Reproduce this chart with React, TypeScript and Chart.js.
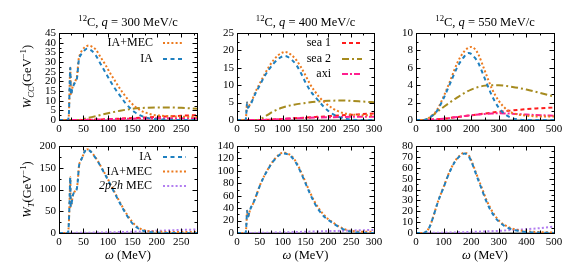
import React, { useEffect, useRef } from 'react';
import { Chart, registerables } from 'chart.js';
Chart.register(...registerables);

const W = 568;
const H = 273;
const FONT = '"Liberation Serif", "Times New Roman", serif';

// ---------------- data ----------------
// q = 300 MeV/c, W_CC
const om300cc = [0, 18, 20, 22, 23, 24.5, 27, 30, 34, 37, 40, 43, 47, 52, 57, 62, 67, 75, 85, 95, 105, 115, 125, 135, 145, 155, 165, 175, 190, 210, 230, 250, 282];
const cc300IA = [0, 0, 2, 20, 27, 13, 16, 18, 20, 22, 30, 33, 34.5, 36, 36.8, 36.6, 35.8, 33.5, 29, 24.5, 20, 16, 12.5, 9, 6.2, 4, 2.5, 1.5, 0.7, 0.3, 0.1, 0, 0];
const cc300IAMEC = [0, 0, 2, 20, 27.5, 13, 16.3, 18.5, 20.5, 23, 31, 34, 36, 37.5, 38.3, 38.5, 38, 36.5, 32.5, 28.5, 24, 20, 16, 12.5, 9.5, 7, 5.2, 4, 2.8, 2.2, 1.9, 1.7, 1.6];
const om300sea = [0, 40, 50, 75, 100, 125, 150, 175, 200, 225, 250, 282];
const cc300sea1 = [0, 0, 0.05, 0.2, 0.4, 0.7, 1.0, 1.3, 1.6, 1.9, 2.2, 2.5];
const cc300sea2 = [0, 0, 0.5, 2, 3.5, 4.8, 5.8, 6.3, 6.5, 6.5, 6.3, 5.8];
const cc300axi = [0, 0, 0.05, 0.2, 0.4, 0.55, 0.7, 0.8, 0.85, 0.9, 0.9, 0.9];

// q = 400 MeV/c, W_CC
const om400cc = [0, 19, 21, 22, 24, 27, 30, 35, 40, 50, 60, 70, 80, 90, 100, 105, 110, 120, 130, 140, 150, 160, 170, 180, 190, 200, 210, 220, 230, 240, 250, 270, 300];
const cc400IA = [0, 0, 3, 5, 3.5, 4, 4.5, 6, 7.5, 10, 12.5, 14.5, 16.2, 17.5, 18.3, 18.4, 18.2, 17.3, 15.8, 13.5, 10.8, 8.5, 6.8, 5.3, 3.8, 2.6, 1.7, 1, 0.6, 0.3, 0.1, 0, 0];
const cc400IAMEC = [0, 0, 3, 5, 3.5, 4.2, 4.8, 6.3, 8, 10.5, 13, 15.3, 17.2, 18.6, 19.4, 19.6, 19.4, 18.6, 17.2, 15.2, 12.8, 10.3, 8.3, 6.6, 5.3, 4.2, 3.3, 2.6, 2.1, 1.8, 1.6, 1.4, 1.3];
const om400sea = [0, 45, 55, 65, 80, 100, 125, 150, 175, 200, 225, 250, 275, 300];
const cc400sea1 = [0, 0, 0.02, 0.05, 0.15, 0.3, 0.5, 0.7, 0.9, 1.1, 1.3, 1.5, 1.7, 1.9];
const cc400sea2 = [0, 0, 0.5, 1.3, 2.5, 3.6, 4.4, 4.9, 5.3, 5.5, 5.6, 5.5, 5.3, 5.1];
const cc400axi = [0, 0, 0.02, 0.05, 0.15, 0.3, 0.45, 0.6, 0.7, 0.8, 0.85, 0.9, 0.9, 0.9];

// q = 550 MeV/c, W_CC
const om550cc = [0, 25, 40, 50, 75, 100, 125, 150, 175, 190, 200, 212, 225, 250, 275, 300, 325, 350, 375, 400, 450, 500];
const cc550IA = [0, 0, 0.1, 0.3, 1.0, 2.5, 4.3, 6.1, 7.3, 7.7, 7.6, 7.2, 6.6, 4.7, 2.8, 1.4, 0.6, 0.2, 0.05, 0, 0, 0];
const cc550IAMEC = [0, 0, 0.1, 0.3, 1.1, 2.7, 4.6, 6.6, 7.9, 8.3, 8.4, 8.2, 7.6, 5.6, 3.6, 2.2, 1.3, 0.8, 0.6, 0.5, 0.4, 0.4];
const om550sea = [0, 30, 50, 100, 150, 200, 250, 275, 300, 350, 400, 450, 500];
const cc550sea1 = [0, 0, 0.02, 0.15, 0.35, 0.55, 0.75, 0.85, 0.95, 1.1, 1.25, 1.35, 1.45];
const cc550sea2 = [0, 0, 0.3, 1.5, 2.6, 3.5, 3.95, 4.0, 4.0, 3.8, 3.5, 3.1, 2.7];
const cc550axi = [0, 0, 0.02, 0.15, 0.35, 0.55, 0.7, 0.75, 0.78, 0.72, 0.62, 0.55, 0.5];

// q = 300 MeV/c, W_T
const om300t = [0, 18, 20, 22, 23, 24, 26, 28, 32, 36, 38, 41, 44, 48, 52, 57, 62, 70, 80, 90, 100, 110, 120, 130, 140, 150, 160, 170, 180, 200, 230, 282];
const t300IA = [0, 0, 20, 90, 128, 60, 70, 85, 95, 100, 115, 155, 165, 175, 186, 192, 190, 180, 163, 143, 122, 100, 78, 57, 38, 22, 12, 6, 3, 1, 0, 0];
const t300IAMEC = [0, 0, 20, 90, 128, 60, 70, 85, 95, 100, 115, 155, 165, 175, 186.3, 192.6, 190.6, 180.8, 164, 144.2, 123.5, 101.8, 80.1, 59.4, 40.7, 25, 14, 8, 5, 3, 2.5, 2.5];
const om300mec = [0, 50, 100, 150, 200, 250, 282];
const t300MEC = [0, 0.5, 1.5, 3, 5, 7, 8];

// q = 400 MeV/c, W_T
const om400t = [0, 19, 21, 22, 24, 27, 30, 35, 40, 45, 50, 60, 70, 80, 90, 100, 110, 120, 130, 140, 150, 160, 170, 180, 190, 200, 210, 220, 230, 240, 250, 260, 280, 300];
const t400IA = [0, 0, 20, 36, 26, 33, 40, 47, 56, 66, 76, 92, 105, 116, 124, 128, 127, 122, 112, 97, 80, 63, 48, 36, 27, 21, 16, 11, 7, 4, 2.3, 1.2, 0.3, 0];
const t400IAMEC = [0, 0, 20, 36, 26, 33, 40, 47, 56, 66, 76.3, 92.4, 105.6, 116.7, 124.9, 129, 128.2, 123.4, 113.6, 98.8, 82, 65.2, 50.4, 38.6, 29.5, 22, 17, 12, 8, 5, 3.5, 2.5, 2, 2];
const om400mec = [0, 50, 100, 150, 200, 250, 300];
const t400MEC = [0, 0.3, 1, 2, 3, 4, 5];

// q = 550 MeV/c, W_T
const om550t = [0, 25, 40, 50, 60, 70, 80, 100, 120, 140, 160, 175, 190, 200, 212, 225, 240, 255, 270, 285, 300, 320, 340, 360, 380, 400, 450, 500];
const t550IA = [0, 0, 2, 6, 13, 21, 29, 42, 55, 65, 71, 73, 71, 66, 58, 49, 39, 29, 21, 15, 10.5, 6.5, 4, 2.5, 1.5, 0.8, 0.3, 0.1];
const t550IAMEC = [0, 0, 2, 6.1, 13.1, 21.2, 29.2, 42.3, 55.4, 65.5, 71.6, 73.7, 71.9, 67, 59.1, 50.3, 40.5, 30.6, 22.7, 16.5, 11.5, 7.5, 5, 3.3, 2.2, 1.5, 0.8, 0.5];
const om550mec = [0, 100, 200, 300, 350, 400, 450, 500];
const t550MEC = [0, 0.3, 1, 2, 2.8, 3.5, 4.5, 6];

// axis ranges / ticks
const xMax = [282, 300, 500];
const xStep = [50, 50, 100];
const yMaxCC = [45, 25, 10];
const yStepCC = [5, 5, 2];
const yMaxT = [200, 140, 80];
const yStepT = [50, 20, 10];
const qValues = ['300', '400', '550'];

// ---------------- styles ----------------
type Sty = { color: string; dash: number[]; width: number };
const S_IA: Sty = { color: '#1f80c0', dash: [4, 3.5], width: 2 };
const S_IAMEC: Sty = { color: '#ec7a1e', dash: [2, 2.2], width: 2 };
const S_SEA1: Sty = { color: '#ff1c1c', dash: [4, 3], width: 2 };
const S_SEA2: Sty = { color: '#a68b1f', dash: [7, 3, 2, 3], width: 2 };
const S_AXI: Sty = { color: '#ff1f8f', dash: [6, 2, 2, 2], width: 2 };
const S_MEC: Sty = { color: '#b27ef0', dash: [2, 2.2], width: 2 };
const S_ZERO: Sty = { color: '#a0a0a0', dash: [], width: 2 };

type Run = { t: string; i?: boolean; sub?: boolean; sup?: boolean };

function drawRuns(ctx: CanvasRenderingContext2D, runs: Run[], x: number, y: number, size: number, align: 'left' | 'center' | 'right', rotate = false) {
  ctx.save();
  const pieces = runs.map((r) => {
    const s = r.sub || r.sup ? size * 0.7 : size;
    const f = `${r.i ? 'italic ' : ''}${s}px ${FONT}`;
    ctx.font = f;
    return { t: r.t, f, w: ctx.measureText(r.t).width, dy: r.sub ? size * 0.28 : r.sup ? -size * 0.36 : 0 };
  });
  const total = pieces.reduce((a, p) => a + p.w, 0);
  ctx.translate(x, y);
  if (rotate) ctx.rotate(-Math.PI / 2);
  let cx = align === 'left' ? 0 : align === 'center' ? -total / 2 : -total;
  ctx.textBaseline = 'middle';
  ctx.textAlign = 'left';
  ctx.fillStyle = '#000';
  for (const p of pieces) {
    ctx.font = p.f;
    ctx.fillText(p.t, cx, p.dy);
    cx += p.w;
  }
  ctx.restore();
}

type LegendEntry = { runs: Run[]; sty: Sty; dy: number };
type Decor = {
  title?: Run[];
  ylabel?: Run[];
  xlabel?: Run[];
  legend?: LegendEntry[];
  legendTextRight?: number;
  legendLine?: [number, number];
  xStep: number;
  yStep: number;
};

const decorPlugin = {
  id: 'decor',
  afterDraw(chart: any, _args: any, opts: Decor) {
    const { ctx, chartArea: a, scales } = chart;
    const xs = scales.x;
    const ys = scales.y;
    const L = Math.round(a.left);
    const R = Math.round(a.right);
    const T = Math.round(a.top);
    const B = Math.round(a.bottom);
    ctx.save();
    ctx.strokeStyle = '#000';
    ctx.lineWidth = 1;
    ctx.setLineDash([]);
    ctx.beginPath();
    // x ticks (major + minor), mirrored
    const xmin = xs.min, xmax = xs.max;
    const xm = opts.xStep / 2;
    for (let k = 0; xmin + k * xm <= xmax + 1e-9; k++) {
      const v = xmin + k * xm;
      const len = k % 2 === 0 ? 4.5 : 2.5;
      const px = Math.round(xs.getPixelForValue(v)) + 0.5;
      ctx.moveTo(px, B);
      ctx.lineTo(px, B - len);
      ctx.moveTo(px, T);
      ctx.lineTo(px, T + len);
    }
    const ym = opts.yStep / 2;
    for (let k = 0; ys.min + k * ym <= ys.max + 1e-9; k++) {
      const v = ys.min + k * ym;
      const len = k % 2 === 0 ? 4.5 : 2.5;
      const py = Math.round(ys.getPixelForValue(v)) + 0.5;
      ctx.moveTo(L, py);
      ctx.lineTo(L + len, py);
      ctx.moveTo(R, py);
      ctx.lineTo(R - len, py);
    }
    ctx.stroke();
    ctx.strokeRect(L + 0.5, T + 0.5, R - L, B - T);
    // texts
    const cxm = (a.left + a.right) / 2;
    const cym = (a.top + a.bottom) / 2;
    if (opts.title) drawRuns(ctx, opts.title, cxm, a.top - 10, 12.5, 'center');
    if (opts.ylabel) drawRuns(ctx, opts.ylabel, 28, cym, 12.5, 'center', true);
    if (opts.xlabel) drawRuns(ctx, opts.xlabel, cxm, 256, 12.5, 'center');
    if (opts.legend && opts.legendLine && opts.legendTextRight !== undefined) {
      for (const e of opts.legend) {
        const y = a.top + e.dy;
        drawRuns(ctx, e.runs, a.right - opts.legendTextRight, y, 12, 'right');
        ctx.save();
        ctx.strokeStyle = e.sty.color;
        ctx.lineWidth = e.sty.width;
        ctx.setLineDash(e.sty.dash);
        ctx.beginPath();
        ctx.moveTo(a.right - opts.legendLine[0], y);
        ctx.lineTo(a.right - opts.legendLine[1], y);
        ctx.stroke();
        ctx.restore();
      }
    }
    ctx.restore();
  },
};

type Series = { xs: number[]; ys: number[]; sty: Sty; order: number; label: string };
type Panel = {
  L: number; R: number; T: number; B: number;
  xMax: number; xStep: number; yMax: number; yStep: number;
  series: Series[];
  decor: Decor;
};

const colL = [59, 237, 416];
const colR = [197, 374, 554];
const rowT = [33, 146];
const rowB = [120, 233];

function titleRuns(q: string): Run[] {
  return [{ t: '12', sup: true }, { t: 'C, ' }, { t: 'q', i: true }, { t: ` = ${q} MeV/c` }];
}

const ccData = [
  { om: om300cc, ia: cc300IA, iamec: cc300IAMEC, oms: om300sea, s1: cc300sea1, s2: cc300sea2, ax: cc300axi },
  { om: om400cc, ia: cc400IA, iamec: cc400IAMEC, oms: om400sea, s1: cc400sea1, s2: cc400sea2, ax: cc400axi },
  { om: om550cc, ia: cc550IA, iamec: cc550IAMEC, oms: om550sea, s1: cc550sea1, s2: cc550sea2, ax: cc550axi },
];
const tData = [
  { om: om300t, ia: t300IA, iamec: t300IAMEC, omm: om300mec, mec: t300MEC },
  { om: om400t, ia: t400IA, iamec: t400IAMEC, omm: om400mec, mec: t400MEC },
  { om: om550t, ia: t550IA, iamec: t550IAMEC, omm: om550mec, mec: t550MEC },
];

const PANELS: Panel[] = [];
for (let c = 0; c < 3; c++) {
  const d = ccData[c];
  const decor: Decor = { title: titleRuns(qValues[c]), xStep: xStep[c], yStep: yStepCC[c] };
  if (c === 0) {
    decor.ylabel = [{ t: 'W', i: true }, { t: 'CC', i: true, sub: true }, { t: '(GeV' }, { t: '−1', sup: true }, { t: ')' }];
    decor.legend = [
      { runs: [{ t: 'IA+MEC' }], sty: S_IAMEC, dy: 10 },
      { runs: [{ t: 'IA' }], sty: S_IA, dy: 26 },
    ];
    decor.legendTextRight = 44;
    decor.legendLine = [34, 13];
  }
  if (c === 1) {
    decor.legend = [
      { runs: [{ t: 'sea 1' }], sty: S_SEA1, dy: 10 },
      { runs: [{ t: 'sea 2' }], sty: S_SEA2, dy: 26 },
      { runs: [{ t: 'axi' }], sty: S_AXI, dy: 41 },
    ];
    decor.legendTextRight = 43;
    decor.legendLine = [32, 12];
  }
  PANELS.push({
    L: colL[c], R: colR[c], T: rowT[0], B: rowB[0],
    xMax: xMax[c], xStep: xStep[c], yMax: yMaxCC[c], yStep: yStepCC[c],
    series: [
      { xs: [0, xMax[c]], ys: [0, 0], sty: S_ZERO, order: 9, label: 'zero' },
      { xs: d.oms, ys: d.s2, sty: S_SEA2, order: 6, label: 'sea 2' },
      { xs: d.oms, ys: d.s1, sty: S_SEA1, order: 5, label: 'sea 1' },
      { xs: d.oms, ys: d.ax, sty: S_AXI, order: 4, label: 'axi' },
      { xs: d.om, ys: d.iamec, sty: S_IAMEC, order: 3, label: 'IA+MEC' },
      { xs: d.om, ys: d.ia, sty: S_IA, order: 2, label: 'IA' },
    ],
    decor,
  });
}
for (let c = 0; c < 3; c++) {
  const d = tData[c];
  const decor: Decor = { xlabel: [{ t: 'ω', i: true }, { t: ' (MeV)' }], xStep: xStep[c], yStep: yStepT[c] };
  if (c === 0) {
    decor.ylabel = [{ t: 'W', i: true }, { t: 'T', i: true, sub: true }, { t: '(GeV' }, { t: '−1', sup: true }, { t: ')' }];
    decor.legend = [
      { runs: [{ t: 'IA' }], sty: S_IA, dy: 11 },
      { runs: [{ t: 'IA+MEC' }], sty: S_IAMEC, dy: 25.5 },
      { runs: [{ t: '2p2h', i: true }, { t: ' MEC' }], sty: S_MEC, dy: 40 },
    ];
    decor.legendTextRight = 45;
    decor.legendLine = [34, 11];
  }
  PANELS.push({
    L: colL[c], R: colR[c], T: rowT[1], B: rowB[1],
    xMax: xMax[c], xStep: xStep[c], yMax: yMaxT[c], yStep: yStepT[c],
    series: [
      { xs: [0, xMax[c]], ys: [0, 0], sty: S_ZERO, order: 9, label: 'zero' },
      { xs: d.omm, ys: d.mec, sty: S_MEC, order: 4, label: '2p2h MEC' },
      { xs: d.om, ys: d.iamec, sty: S_IAMEC, order: 3, label: 'IA+MEC' },
      { xs: d.om, ys: d.ia, sty: S_IA, order: 2, label: 'IA' },
    ],
    decor,
  });
}

const Y_AXIS_W = 30;
const X_AXIS_H = 20;

function ticksFor(max: number, step: number) {
  const t: { value: number }[] = [];
  for (let v = 0; v <= max + 1e-9; v += step) t.push({ value: v });
  return t;
}

function makeConfig(p: Panel): any {
  return {
    type: 'line',
    data: {
      datasets: p.series.map((s) => ({
        label: s.label,
        data: s.xs.map((x, i) => ({ x, y: s.ys[i] })),
        borderColor: s.sty.color,
        borderDash: s.sty.dash,
        borderWidth: s.sty.width,
        borderCapStyle: 'butt',
        pointRadius: 0,
        fill: false,
        cubicInterpolationMode: 'monotone',
        order: s.order,
        clip: false,
      })),
    },
    options: {
      responsive: false,
      animation: false,
      events: [],
      layout: { padding: { left: p.L - Y_AXIS_W, right: W - p.R, top: p.T, bottom: H - p.B - X_AXIS_H } },
      plugins: { legend: { display: false }, tooltip: { enabled: false }, title: { display: false }, decor: p.decor },
      scales: {
        x: {
          type: 'linear',
          min: 0,
          max: p.xMax,
          afterBuildTicks: (sc: any) => { sc.ticks = ticksFor(p.xMax, p.xStep); },
          afterFit: (sc: any) => { sc.height = X_AXIS_H; },
          grid: { display: false, drawTicks: false },
          border: { display: false },
          ticks: { font: { family: FONT, size: 11 }, color: '#000', padding: 3, maxRotation: 0, autoSkip: false },
        },
        y: {
          type: 'linear',
          min: 0,
          max: p.yMax,
          afterBuildTicks: (sc: any) => { sc.ticks = ticksFor(p.yMax, p.yStep); },
          afterFit: (sc: any) => { sc.width = Y_AXIS_W; },
          grid: { display: false, drawTicks: false },
          border: { display: false },
          ticks: { font: { family: FONT, size: 11 }, color: '#000', padding: 3, autoSkip: false },
        },
      },
    },
    plugins: [decorPlugin],
  };
}

export default function App() {
  const refs = useRef<(HTMLCanvasElement | null)[]>([]);
  useEffect(() => {
    const charts = PANELS.map((p, i) => new Chart(refs.current[i] as HTMLCanvasElement, makeConfig(p)));
    return () => charts.forEach((c) => c.destroy());
  }, []);
  return (
    <div style={{ position: 'absolute', left: 0, top: 0, width: W, height: H, background: '#fff', overflow: 'hidden' }}>
      {PANELS.map((_, i) => (
        <canvas
          key={i}
          ref={(el) => { refs.current[i] = el; }}
          width={W}
          height={H}
          style={{ position: 'absolute', left: 0, top: 0, width: W, height: H }}
        />
      ))}
    </div>
  );
}
